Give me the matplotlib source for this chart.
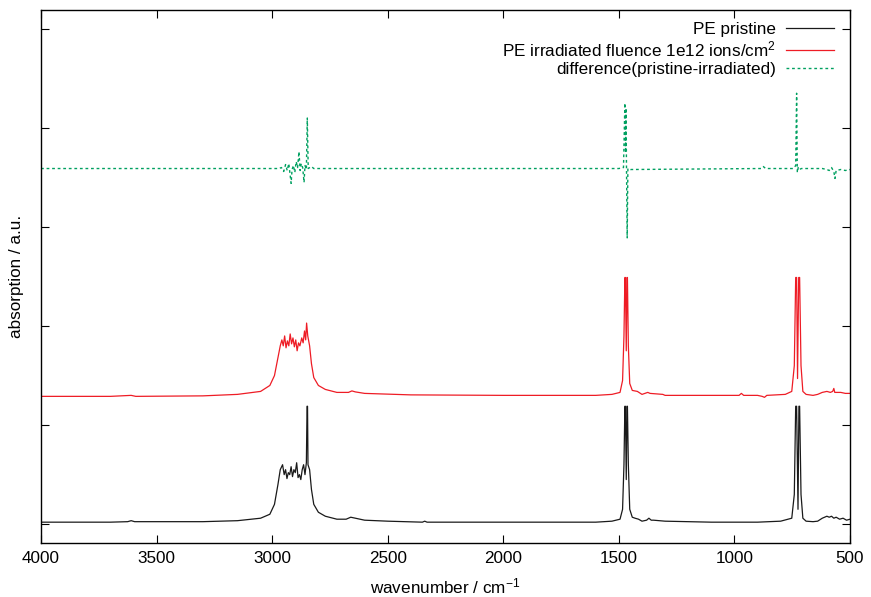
import matplotlib
matplotlib.use("Agg")
import matplotlib.pyplot as plt

plt.rcParams["font.family"] = ["Liberation Sans", "DejaVu Sans"]
plt.rcParams["mathtext.default"] = "regular"

# PE pristine (wavenumber, absorption)
pristine_wn = [4000, 3700, 3625, 3610, 3595, 3300, 3150, 3050, 3010, 2990, 2975, 2965,
               2955, 2948, 2942, 2936, 2930, 2924, 2918, 2912, 2906, 2900, 2894, 2888,
               2882, 2876, 2870, 2864, 2858, 2852, 2849, 2847, 2845, 2838, 2830, 2820,
               2800, 2770, 2720, 2680, 2660, 2640, 2600, 2500, 2350, 2340, 2330, 2000,
               1600, 1530, 1495, 1484, 1478, 1474, 1472, 1468, 1465, 1463, 1459, 1453,
               1442, 1430, 1415, 1400, 1380, 1370, 1360, 1350, 1300, 1100, 900, 800,
               752, 741, 735, 731, 725, 721, 718, 712, 704, 690, 660, 640, 620, 600,
               590, 580, 570, 560, 545, 530, 515, 500]
pristine_abs = [0.02, 0.02, 0.025, 0.035, 0.025, 0.025, 0.035, 0.06, 0.10, 0.20, 0.40, 0.55,
                0.60, 0.50, 0.55, 0.46, 0.52, 0.50, 0.58, 0.48, 0.55, 0.52, 0.62, 0.47,
                0.50, 0.45, 0.55, 0.60, 0.50, 0.62, 1.19, 1.19, 0.60, 0.55, 0.35, 0.20,
                0.12, 0.08, 0.05, 0.05, 0.07, 0.06, 0.04, 0.03, 0.02, 0.03, 0.02, 0.02,
                0.02, 0.03, 0.05, 0.15, 0.60, 1.19, 1.19, 0.45, 1.19, 1.19, 0.60, 0.15,
                0.07, 0.06, 0.05, 0.03, 0.04, 0.06, 0.04, 0.04, 0.03, 0.02, 0.02, 0.03,
                0.06, 0.30, 1.19, 1.19, 0.15, 1.19, 1.19, 0.30, 0.06, 0.03, 0.025, 0.03, 0.06, 0.08,
                0.07, 0.08, 0.06, 0.07, 0.05, 0.06, 0.04, 0.05]

# PE irradiated, fluence 1e12 ions/cm^2 (offset upwards)
irrad_wn = [4000, 3700, 3610, 3590, 3300, 3150, 3050, 3010, 2990, 2975, 2965, 2958,
            2952, 2946, 2940, 2934, 2928, 2922, 2916, 2910, 2904, 2898, 2892, 2886,
            2880, 2872, 2866, 2860, 2855, 2851, 2846, 2838, 2830, 2820, 2800, 2770,
            2720, 2670, 2655, 2640, 2600, 2400, 2000, 1600, 1530, 1495, 1484, 1478,
            1474, 1472, 1468, 1465, 1463, 1459, 1453, 1442, 1420, 1400, 1375, 1365,
            1310, 1300, 980, 970, 960, 900, 880, 870, 860, 780, 752, 741, 735, 731,
            727, 722, 718, 712, 704, 690, 660, 640, 620, 600, 585, 575, 570, 566, 540,
            520, 500]
irrad_abs = [1.29, 1.29, 1.30, 1.29, 1.295, 1.31, 1.34, 1.40, 1.50, 1.68, 1.80, 1.86,
             1.80, 1.90, 1.78, 1.85, 1.80, 1.92, 1.82, 1.88, 1.79, 1.86, 1.75, 1.83,
             1.80, 1.88, 1.83, 1.95, 1.86, 2.03, 1.90, 1.80, 1.62, 1.48, 1.40, 1.36,
             1.33, 1.33, 1.345, 1.335, 1.32, 1.305, 1.30, 1.30, 1.31, 1.33, 1.45, 1.90,
             2.49, 2.49, 1.75, 2.49, 2.49, 1.80, 1.42, 1.35, 1.34, 1.31, 1.33, 1.32,
             1.31, 1.30, 1.30, 1.32, 1.30, 1.30, 1.29, 1.28, 1.30, 1.31, 1.34, 1.60, 2.49, 2.49,
             1.47, 2.49, 2.49, 1.60, 1.34, 1.31, 1.30, 1.31, 1.33, 1.34, 1.33, 1.34, 1.37, 1.33, 1.33,
             1.32, 1.32]

# difference (pristine - irradiated), offset upwards
diff_wn = [4000, 2970, 2960, 2950, 2942, 2935, 2928, 2922, 2918, 2914, 2908, 2902,
           2896, 2890, 2884, 2879, 2874, 2868, 2862, 2858, 2852, 2848, 2844, 2830,
           2820, 1500, 1480, 1474, 1471, 1469, 1467, 1464, 1461, 1450, 885, 875,
           865, 745, 735, 731, 728, 724, 720, 710, 660, 620, 600, 590, 580, 570,
           565, 560, 540, 520, 500]
diff_abs = [3.59, 3.59, 3.60, 3.56, 3.63, 3.57, 3.64, 3.52, 3.44, 3.58, 3.62, 3.55,
            3.66, 3.60, 3.76, 3.57, 3.64, 3.60, 3.45, 3.62, 3.58, 4.10, 3.59, 3.61,
            3.59, 3.59, 3.60, 4.25, 3.75, 4.20, 3.59, 2.89, 3.59, 3.58, 3.59, 3.61,
            3.59, 3.59, 3.62, 4.35, 3.55, 3.60, 3.58, 3.59, 3.59, 3.59, 3.58, 3.57,
            3.60, 3.56, 3.49, 3.57, 3.58, 3.57, 3.58]

xticks = [4000, 3500, 3000, 2500, 2000, 1500, 1000, 500]
yticks = [0, 1, 2, 3, 4, 5]

fig = plt.figure(figsize=(8.71, 5.97), dpi=100)
ax = fig.add_axes([0.0471, 0.0905, 0.9288, 0.8927])

ax.plot(pristine_wn, pristine_abs, color="#1a1a1a", lw=0.9, label="PE pristine")
ax.plot(irrad_wn, irrad_abs, color="#ee1c25", lw=0.9,
        label="PE irradiated fluence 1e12 ions/cm$^{2}$")
ax.plot(diff_wn, diff_abs, color="#00a060", lw=1.0, linestyle=(0, (2, 2)),
        label="difference(pristine-irradiated)")

ax.set_xlim(4000, 500)
ax.set_ylim(-0.19, 5.19)
ax.set_xticks(xticks)
ax.set_yticks(yticks)
ax.set_yticklabels([])
ax.tick_params(direction="in", length=5.5, width=0.8, top=True, right=True,
               labelsize=12.3, pad=6)
for s in ax.spines.values():
    s.set_linewidth(1.0)

ax.set_xlabel("wavenumber / cm$^{-1}$", fontsize=12.3, labelpad=7)
ax.set_ylabel("absorption / a.u.", fontsize=12.3)
ax.yaxis.set_label_coords(-0.021, 0.5)

ax.legend(loc="upper right", markerfirst=False, frameon=False, fontsize=12.3,
          handlelength=2.8, handletextpad=0.6, labelspacing=0.15,
          borderaxespad=0.3, bbox_to_anchor=(0.995, 1.0))

fig.savefig("out.png", dpi=100)
